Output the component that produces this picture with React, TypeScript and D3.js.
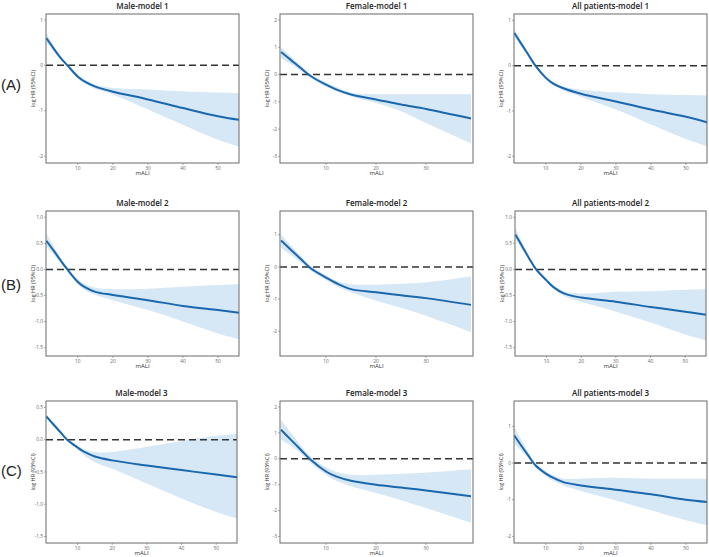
import * as d3 from 'd3';
import React from 'react';

// x grids (mALI) used for the spline readings
const xLong = [1, 3, 5, 7, 10, 12, 15, 20, 30, 40, 50, 56];
const xShort = [1, 3, 5, 7, 10, 12, 15, 20, 25, 30, 39];

const titles = [
  'Male-model 1', 'Female-model 1', 'All patients-model 1',
  'Male-model 2', 'Female-model 2', 'All patients-model 2',
  'Male-model 3', 'Female-model 3', 'All patients-model 3',
];
const rowLabels = ['(A)', '(B)', '(C)'];

// log HR estimate, lower and upper 95% CI per panel
const male1Est = [0.6, 0.38, 0.17, 0.0, -0.25, -0.36, -0.47, -0.58, -0.75, -0.94, -1.12, -1.2];
const male1Lo = [0.5, 0.32, 0.13, -0.03, -0.29, -0.4, -0.52, -0.64, -0.97, -1.31, -1.64, -1.79];
const male1Hi = [0.72, 0.45, 0.21, 0.03, -0.21, -0.32, -0.43, -0.5, -0.53, -0.57, -0.6, -0.61];

const female1Est = [0.83, 0.53, 0.23, -0.06, -0.37, -0.54, -0.73, -0.91, -1.1, -1.26, -1.61];
const female1Lo = [0.6, 0.38, 0.13, -0.13, -0.45, -0.61, -0.8, -1.04, -1.34, -1.77, -2.52];
const female1Hi = [1.0, 0.66, 0.32, 0.0, -0.28, -0.45, -0.67, -0.72, -0.72, -0.72, -0.72];

const all1Est = [0.72, 0.48, 0.24, 0.0, -0.27, -0.39, -0.5, -0.62, -0.79, -0.97, -1.13, -1.25];
const all1Lo = [0.63, 0.42, 0.2, -0.03, -0.31, -0.43, -0.55, -0.69, -0.97, -1.3, -1.62, -1.78];
const all1Hi = [0.81, 0.54, 0.28, 0.03, -0.23, -0.35, -0.46, -0.53, -0.59, -0.63, -0.65, -0.66];

const male2Est = [0.55, 0.37, 0.18, 0.0, -0.24, -0.34, -0.43, -0.49, -0.59, -0.7, -0.78, -0.83];
const male2Lo = [0.44, 0.29, 0.13, -0.04, -0.29, -0.4, -0.49, -0.59, -0.78, -1.0, -1.23, -1.34];
const male2Hi = [0.69, 0.46, 0.23, 0.04, -0.2, -0.28, -0.35, -0.38, -0.37, -0.33, -0.3, -0.28];

const female2Est = [0.82, 0.53, 0.24, -0.05, -0.33, -0.5, -0.69, -0.79, -0.88, -0.97, -1.18];
const female2Lo = [0.6, 0.37, 0.13, -0.13, -0.41, -0.59, -0.79, -1.05, -1.27, -1.52, -2.03];
const female2Hi = [1.0, 0.67, 0.34, 0.02, -0.26, -0.42, -0.54, -0.55, -0.52, -0.48, -0.3];

const all2Est = [0.67, 0.44, 0.21, 0.0, -0.21, -0.34, -0.46, -0.54, -0.62, -0.72, -0.81, -0.87];
const all2Lo = [0.58, 0.38, 0.17, -0.03, -0.24, -0.37, -0.51, -0.62, -0.81, -1.02, -1.25, -1.36];
const all2Hi = [0.79, 0.51, 0.25, 0.03, -0.18, -0.31, -0.42, -0.46, -0.43, -0.42, -0.39, -0.38];

const male3Est = [0.36, 0.24, 0.12, 0.0, -0.12, -0.19, -0.26, -0.32, -0.4, -0.47, -0.54, -0.58];
const male3Lo = [0.32, 0.21, 0.1, -0.02, -0.15, -0.25, -0.35, -0.45, -0.68, -0.91, -1.12, -1.22];
const male3Hi = [0.4, 0.27, 0.14, 0.02, -0.09, -0.15, -0.19, -0.19, -0.11, -0.02, 0.06, 0.09];

const female3Est = [1.12, 0.73, 0.34, -0.05, -0.49, -0.68, -0.85, -1.0, -1.11, -1.22, -1.45];
const female3Lo = [0.73, 0.5, 0.2, -0.17, -0.62, -0.85, -1.06, -1.32, -1.6, -1.9, -2.47];
const female3Hi = [1.5, 1.0, 0.5, 0.07, -0.32, -0.5, -0.62, -0.62, -0.58, -0.53, -0.4];

const all3Est = [0.75, 0.47, 0.2, -0.06, -0.29, -0.4, -0.52, -0.61, -0.73, -0.85, -1.0, -1.06];
const all3Lo = [0.53, 0.33, 0.12, -0.11, -0.36, -0.48, -0.61, -0.76, -1.02, -1.29, -1.56, -1.7];
const all3Hi = [0.98, 0.63, 0.29, 0.0, -0.22, -0.33, -0.43, -0.42, -0.4, -0.43, -0.43, -0.43];

// axis ranges and ticks
const xDomLong = [0.9, 56];
const xDomShort = [0.8, 39.4];
const xTicksLong = [10, 20, 30, 40, 50];
const xTicksShort = [10, 20, 30];
const yTicksInt2 = [-2, -1, 0, 1];
const yTicksInt3 = [-3, -2, -1, 0, 1, 2];
const yTicksHalf = [-1.5, -1.0, -0.5, 0.0, 0.5, 1.0];
const yTicksHalf3 = [-1.5, -1.0, -0.5, 0.0, 0.5];

const panels = [
  { x: xLong, est: male1Est, lo: male1Lo, hi: male1Hi, xd: xDomLong, xt: xTicksLong, yd: [-2.15, 1.13], yt: yTicksInt2, dec: 0 },
  { x: xShort, est: female1Est, lo: female1Lo, hi: female1Hi, xd: xDomShort, xt: xTicksShort, yd: [-3.24, 2.22], yt: yTicksInt3, dec: 0 },
  { x: xLong, est: all1Est, lo: all1Lo, hi: all1Hi, xd: xDomLong, xt: xTicksLong, yd: [-2.15, 1.14], yt: yTicksInt2, dec: 0 },
  { x: xLong, est: male2Est, lo: male2Lo, hi: male2Hi, xd: xDomLong, xt: xTicksLong, yd: [-1.66, 1.12], yt: yTicksHalf, dec: 1 },
  { x: xShort, est: female2Est, lo: female2Lo, hi: female2Hi, xd: xDomShort, xt: xTicksShort, yd: [-2.77, 1.74], yt: yTicksInt2, dec: 0 },
  { x: xLong, est: all2Est, lo: all2Lo, hi: all2Hi, xd: xDomLong, xt: xTicksLong, yd: [-1.66, 1.12], yt: yTicksHalf, dec: 1 },
  { x: xLong, est: male3Est, lo: male3Lo, hi: male3Hi, xd: xDomLong, xt: xTicksLong, yd: [-1.6, 0.6], yt: yTicksHalf3, dec: 1 },
  { x: xShort, est: female3Est, lo: female3Lo, hi: female3Hi, xd: xDomShort, xt: xTicksShort, yd: [-3.25, 2.23], yt: yTicksInt3, dec: 0 },
  { x: xLong, est: all3Est, lo: all3Lo, hi: all3Hi, xd: xDomLong, xt: xTicksLong, yd: [-2.18, 1.69], yt: yTicksInt2, dec: 0 },
];

// plot boxes in page pixels [left, top, right, bottom]
const boxes = [
  [46, 14, 239, 163], [280, 14, 473, 163], [514, 14, 707, 163],
  [46, 211, 239, 356], [280, 211, 473, 356], [515, 211, 706, 356],
  [46, 401, 237, 543], [280, 401, 473, 543], [514, 401, 707, 543],
];
const rowLabelY = [90, 290, 476];

const LINE = '#1a67ae';
const BAND = '#d6e8f6';
const FONT = '"Open Sans", "DejaVu Sans", sans-serif';

function Panel({ i }: { i: number }) {
  const p = panels[i];
  const [l, t, r, b] = boxes[i];
  const x = d3.scaleLinear().domain(p.xd).range([l, r]);
  const y = d3.scaleLinear().domain(p.yd).range([b, t]);
  const rows = p.x.map((v, k) => ({ x: v, e: p.est[k], lo: p.lo[k], hi: p.hi[k] }));
  const curve = d3.curveCatmullRom.alpha(0.5);
  const area = d3
    .area<any>()
    .x((d) => x(d.x))
    .y0((d) => y(d.lo))
    .y1((d) => y(d.hi))
    .curve(curve);
  const line = d3
    .line<any>()
    .x((d) => x(d.x))
    .y((d) => y(d.e))
    .curve(curve);
  const clip = `clip${i}`;
  const fmt = (v: number) => (p.dec ? v.toFixed(1) : String(v));
  return (
    <g>
      <clipPath id={clip}>
        <rect x={l} y={t} width={r - l} height={b - t} />
      </clipPath>
      <g clipPath={`url(#${clip})`}>
        <path d={area(rows) || ''} fill={BAND} />
        <line x1={l} x2={r} y1={y(0)} y2={y(0)} stroke="#333" strokeWidth={1.5} strokeDasharray="7,4" />
        <path d={line(rows) || ''} fill="none" stroke={LINE} strokeWidth={2} />
      </g>
      <rect x={l} y={t} width={r - l} height={b - t} fill="none" stroke="#6b6b6b" strokeWidth={1} />
      {p.xt.map((v) => (
        <g key={'x' + v}>
          <line x1={x(v)} x2={x(v)} y1={b} y2={b + 2} stroke="#777" strokeWidth={0.6} />
          <text x={x(v)} y={b + 6.5} fontSize={4.8} fill="#666" textAnchor="middle" fontFamily={FONT}>
            {v}
          </text>
        </g>
      ))}
      {p.yt.map((v) => (
        <g key={'y' + v}>
          <line x1={l - 2} x2={l} y1={y(v)} y2={y(v)} stroke="#777" strokeWidth={0.6} />
          <text x={l - 3} y={y(v) + 1.7} fontSize={4.8} fill="#666" textAnchor="end" fontFamily={FONT}>
            {fmt(v)}
          </text>
        </g>
      ))}
      <text x={(l + r) / 2} y={b + 12} fontSize={6} fill="#333" textAnchor="middle" fontFamily={FONT}>
        mALI
      </text>
      <text
        transform={`translate(${l - 11},${(t + b) / 2}) rotate(-90)`}
        fontSize={5.5}
        fill="#333"
        textAnchor="middle"
        fontFamily={FONT}
      >
        log HR (95%CI)
      </text>
      <text x={(l + r) / 2} y={t - 5.5} fontSize={8} fontWeight={600} fill="#222" textAnchor="middle" fontFamily={FONT}>
        {titles[i]}
      </text>
    </g>
  );
}

export default function App() {
  return (
    <svg width={709} height={557} style={{ position: 'absolute', left: 0, top: 0, background: '#fff' }}>
      <rect width={709} height={557} fill="#fff" />
      {panels.map((_, i) => (
        <Panel key={i} i={i} />
      ))}
      {rowLabels.map((s, k) => (
        <text key={s} x={1} y={rowLabelY[k]} fontSize={15} fill="#222" fontFamily='"Liberation Sans", Arial, sans-serif'>
          {s}
        </text>
      ))}
    </svg>
  );
}
